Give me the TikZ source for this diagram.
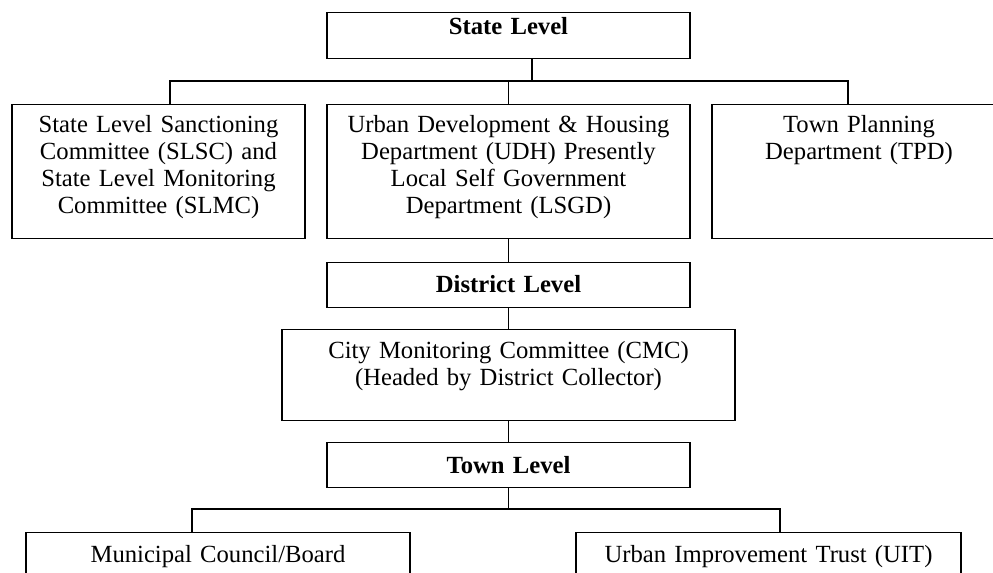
\documentclass[tikz,border=0pt]{standalone}
\usepackage{fontspec}
\setmainfont{Liberation Serif}
\usepackage{tikz}
\tikzstyle{orgbox}=[draw,line width=0.9pt,anchor=north,align=center,inner xsep=4pt,inner ysep=8pt,font=\fontsize{18.5}{20.4}\selectfont]
\tikzstyle{tier}=[orgbox,font=\fontsize{18.5}{20.4}\selectfont\bfseries,text width=264.25pt]
\tikzstyle{link}=[draw,line width=0.9pt,-]

\begin{document}
\begin{tikzpicture}[x=0.75pt,y=-0.75pt]

      \path[use as bounding box] (0,0) rectangle (993,573);
      \clip (0,0) rectangle (993,573);

      \node[tier,text height=8.2pt,text depth=10.3pt] (state) at (508.5,12) {State Level};

      \node[orgbox,text width=211.75pt,text height=12.8pt,text depth=71.7pt] (slsc) at (158.5,104)
        {State Level Sanctioning\\ Committee (SLSC) and\\ State Level Monitoring\\ Committee (SLMC)};
      \node[orgbox,text width=264.25pt,text height=12.8pt,text depth=71.7pt] (udh) at (508.5,104)
        {Urban Development \& Housing\\ Department (UDH) Presently\\ Local Self Government\\ Department (LSGD)};
      \node[orgbox,text width=212.5pt,text height=12.8pt,text depth=71.7pt] (tpd) at (859,104)
        {Town Planning\\ Department (TPD)};

      \node[tier,text height=14.5pt,text depth=3.25pt] (district) at (508.5,262) {District Level};

      \node[orgbox,text width=331.75pt,text height=13.75pt,text depth=38.5pt] (cmc) at (508.5,329)
        {City Monitoring Committee (CMC)\\ (Headed by District Collector)};

      \node[tier,text height=15pt,text depth=2.75pt] (town) at (508.5,442) {Town Level};

      \node[orgbox,text width=280pt,text height=14.3pt,text depth=30pt] (muni) at (218,532)
        {Municipal Council/Board};
      \node[orgbox,text width=280.75pt,text height=14.3pt,text depth=30pt] (uit) at (768.5,532)
        {Urban Improvement Trust (UIT)};

      \coordinate (sbus) at (532,81);
      \coordinate (sleft) at (170,81);
      \coordinate (sright) at (848,81);
      \coordinate (tleft) at (192,509);
      \coordinate (tright) at (780,509);

      \path[link] (sbus |- state.south) -- (sbus);
      \path[link] (sleft |- slsc.north) -- (sleft) -- (sright) -- (sright |- tpd.north);
      \path[link] (udh.north) -- (udh.north |- sbus);

      \path[link] (udh) -- (district);
      \path[link] (district) -- (cmc);
      \path[link] (cmc) -- (town);

      \path[link] (town) -- (town |- tleft);
      \path[link] (tleft |- muni.north) -- (tleft) -- (tright) -- (tright |- uit.north);

    \end{tikzpicture}
\end{document}
